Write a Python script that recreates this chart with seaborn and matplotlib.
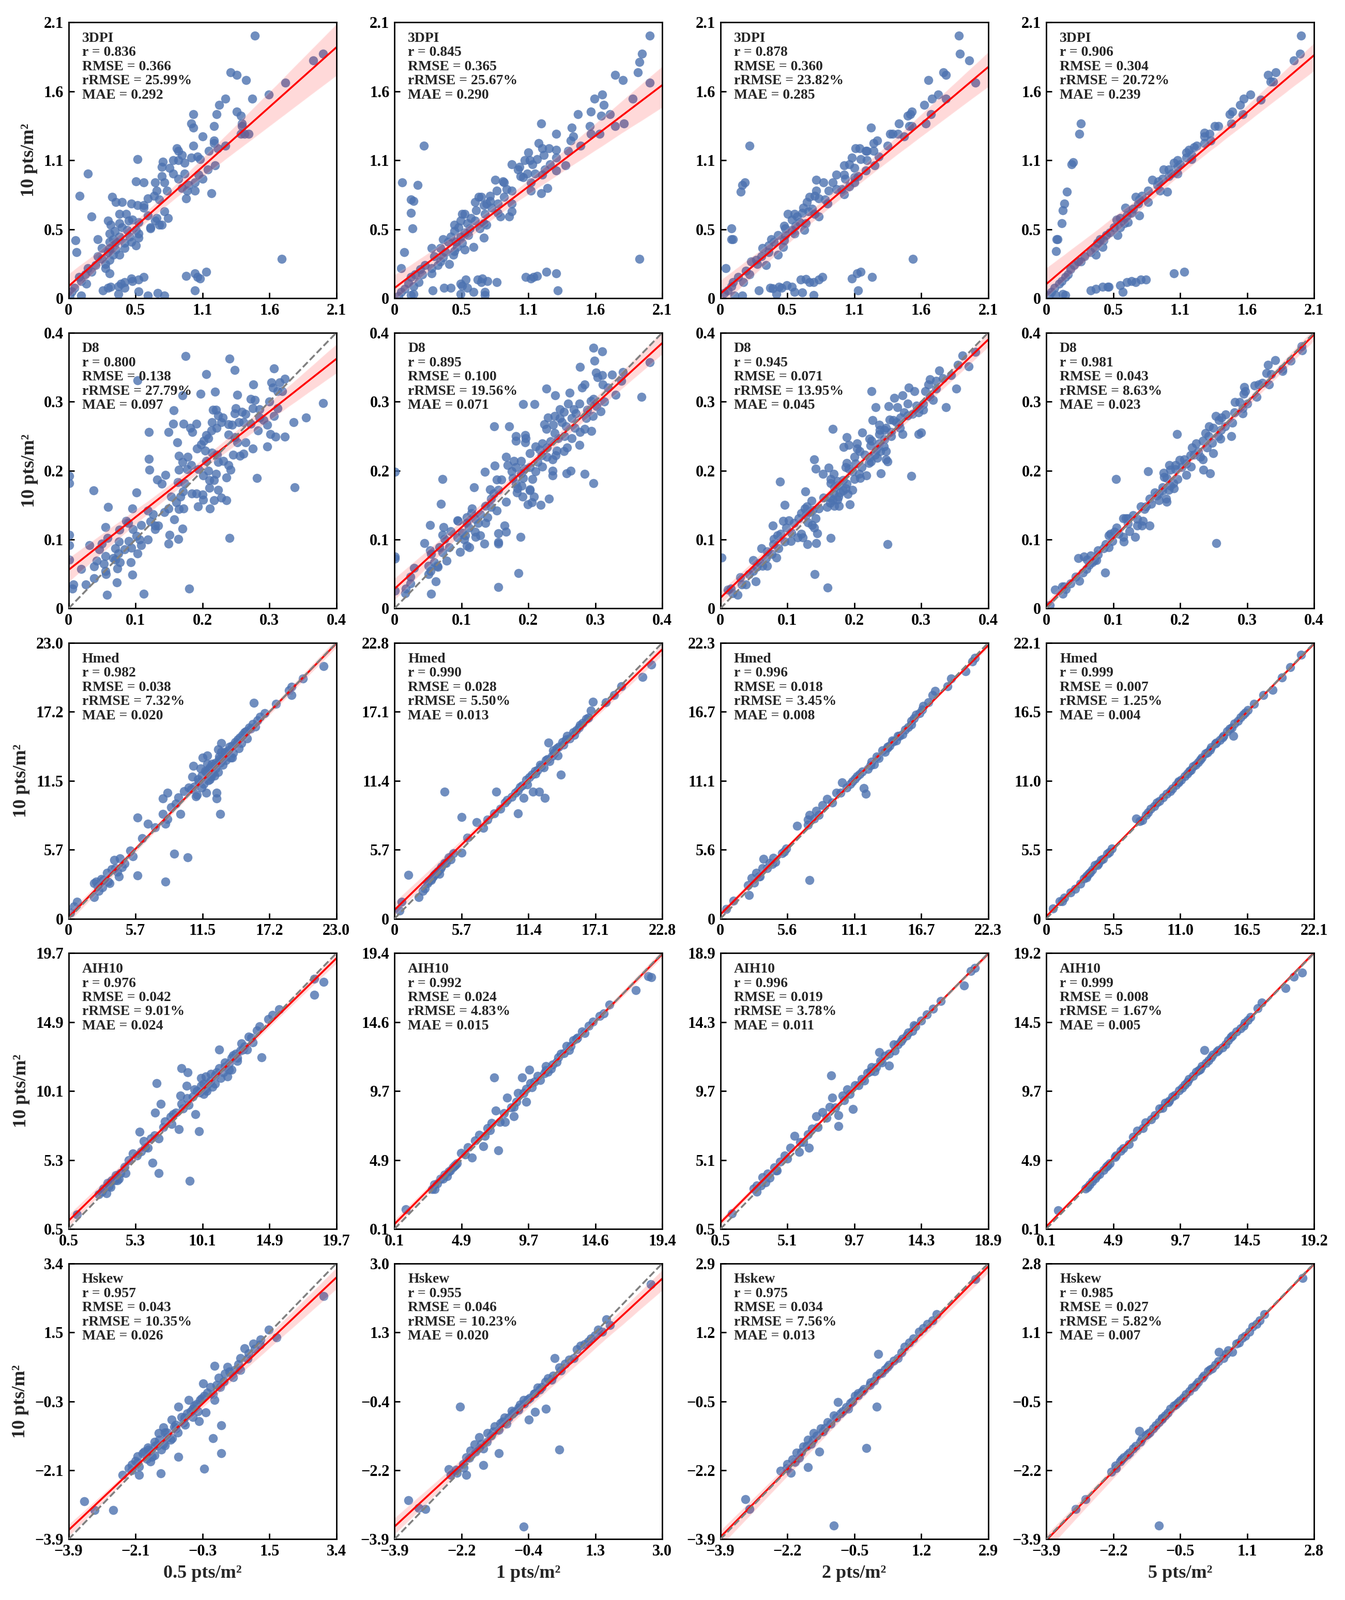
import numpy as np
import pandas as pd
import matplotlib
matplotlib.use("Agg")
import matplotlib.pyplot as plt
import seaborn as sns

# variables (rows) and point densities (columns)
variables = ["3DPI", "D8", "Hmed", "AIH10", "Hskew"]
x_labels = ["0.5 pts/m²", "1 pts/m²", "2 pts/m²", "5 pts/m²"]
y_label = "10 pts/m²"

# stats printed in each panel
r_vals = [[0.836, 0.845, 0.878, 0.906], [0.800, 0.895, 0.945, 0.981], [0.982, 0.990, 0.996, 0.999],
          [0.976, 0.992, 0.996, 0.999], [0.957, 0.955, 0.975, 0.985]]
rmse_vals = [[0.366, 0.365, 0.360, 0.304], [0.138, 0.100, 0.071, 0.043], [0.038, 0.028, 0.018, 0.007],
             [0.042, 0.024, 0.019, 0.008], [0.043, 0.046, 0.034, 0.027]]
rrmse_vals = [[25.99, 25.67, 23.82, 20.72], [27.79, 19.56, 13.95, 8.63], [7.32, 5.50, 3.45, 1.25],
              [9.01, 4.83, 3.78, 1.67], [10.35, 10.23, 7.56, 5.82]]
mae_vals = [[0.292, 0.290, 0.285, 0.239], [0.097, 0.071, 0.045, 0.023], [0.020, 0.013, 0.008, 0.004],
            [0.024, 0.015, 0.011, 0.005], [0.026, 0.020, 0.013, 0.007]]

# axis ranges and tick labels
limits = [[(0, 2.1)] * 4,
          [(0, 0.4)] * 4,
          [(0, 22.96), (0, 22.8), (0, 22.3), (0, 22.06)],
          [(0.5, 19.7), (0.1, 19.4), (0.5, 18.9), (0.1, 19.24)],
          [(-3.92, 3.36), (-3.88, 3.0), (-3.9, 2.9), (-3.87, 2.78)]]
tick_labels = [[["0", "0.5", "1.1", "1.6", "2.1"]] * 4,
               [["0", "0.1", "0.2", "0.3", "0.4"]] * 4,
               [["0", "5.7", "11.5", "17.2", "23.0"], ["0", "5.7", "11.4", "17.1", "22.8"],
                ["0", "5.6", "11.1", "16.7", "22.3"], ["0", "5.5", "11.0", "16.5", "22.1"]],
               [["0.5", "5.3", "10.1", "14.9", "19.7"], ["0.1", "4.9", "9.7", "14.6", "19.4"],
                ["0.5", "5.1", "9.7", "14.3", "18.9"], ["0.1", "4.9", "9.7", "14.5", "19.2"]],
               [["−3.9", "−2.1", "−0.3", "1.5", "3.4"], ["−3.9", "−2.2", "−0.4", "1.3", "3.0"],
                ["−3.9", "−2.2", "−0.5", "1.2", "2.9"], ["−3.9", "−2.2", "−0.5", "1.1", "2.8"]]]
show_diag = [False, True, True, True, True]

# ---- point data (x = lower density, y = 10 pts/m2) ----
pts_3dpi_05 = [(1.46, 2.00), (1.997, 1.86), (1.92, 1.81), (1.70, 1.64), (1.57, 1.55), (1.27, 1.72), (1.32, 1.70),
               (1.39, 1.66), (1.23, 1.52), (1.44, 1.52), (1.18, 1.47), (1.16, 1.40), (1.32, 1.42), (1.35, 1.39),
               (0.98, 1.40), (0.96, 1.33), (0.98, 1.30), (1.14, 1.31), (1.36, 1.33), (1.36, 1.31), (1.35, 1.25),
               (1.41, 1.25), (1.38, 1.25), (1.05, 1.23), (1.14, 1.20), (1.14, 1.18), (1.23, 1.16), (1.17, 1.14),
               (0.98, 1.16), (1.10, 1.12), (0.85, 1.14), (0.86, 1.12), (0.89, 1.09), (0.54, 1.06), (0.74, 1.04),
               (0.82, 1.05), (0.86, 1.05), (0.96, 1.07), (1.01, 1.08), (1.03, 1.06), (0.91, 1.03), (0.73, 1.00),
               (0.79, 0.99), (1.15, 1.01), (1.09, 0.98), (0.15, 0.95), (0.82, 0.95), (0.91, 0.95), (1.02, 0.94),
               (0.73, 0.93), (1.05, 0.91), (0.53, 0.89), (0.59, 0.88), (0.68, 0.88), (0.75, 0.88), (0.86, 0.91),
               (0.99, 0.88), (0.94, 0.86), (0.89, 0.84), (0.99, 0.82), (0.93, 0.82), (0.77, 0.82), (0.69, 0.82),
               (1.12, 0.80), (0.92, 0.76), (0.087, 0.78), (0.34, 0.77), (0.37, 0.73), (0.42, 0.73), (0.49, 0.72),
               (0.62, 0.76), (0.67, 0.78), (0.54, 0.71), (0.59, 0.71), (0.59, 0.69), (0.71, 0.75), (0.75, 0.66),
               (0.78, 0.61), (0.40, 0.64), (0.45, 0.64), (0.18, 0.62), (0.62, 0.63), (0.69, 0.61), (0.68, 0.59),
               (0.71, 0.56), (0.73, 0.56), (0.31, 0.59), (0.33, 0.56), (0.40, 0.57), (0.47, 0.59), (0.50, 0.60),
               (0.55, 0.58), (0.64, 0.53), (0.64, 0.54), (0.42, 0.54), (0.46, 0.52), (0.53, 0.52), (0.36, 0.51),
               (0.32, 0.49), (0.55, 0.49), (0.55, 0.46), (0.40, 0.47), (0.48, 0.47), (0.35, 0.45), (0.23, 0.45),
               (0.054, 0.44), (0.32, 0.43), (0.37, 0.43), (0.44, 0.42), (0.49, 0.43), (0.53, 0.40), (0.26, 0.38),
               (0.32, 0.38), (0.37, 0.37), (0.44, 0.38), (0.06, 0.35), (0.31, 0.35), (0.40, 0.33), (0.35, 0.33),
               (0.23, 0.32), (0.26, 0.30), (0.32, 0.29), (0.29, 0.26), (0.21, 0.25), (0.29, 0.23), (0.15, 0.23),
               (0.32, 0.19), (0.18, 0.20), (0.13, 0.18), (0.081, 0.16), (0.10, 0.13), (0.14, 0.11), (0.045, 0.08),
               (0.027, 0.05), (0.01, 0.02), (0.10, 0.02), (1.67, 0.30), (0.92, 0.17), (0.99, 0.19), (1.01, 0.16),
               (1.03, 0.15), (1.08, 0.20), (0.99, 0.06), (0.49, 0.15), (0.55, 0.14), (0.59, 0.16), (0.50, 0.13),
               (0.44, 0.12), (0.41, 0.11), (0.39, 0.09), (0.44, 0.08), (0.31, 0.08), (0.33, 0.085), (0.27, 0.06),
               (0.39, 0.03), (0.55, 0.05), (0.62, 0.02), (0.70, 0.04), (0.75, 0.02)]

pts_3dpi_1 = [(2.00, 2.00), (1.94, 1.86), (1.92, 1.80), (1.91, 1.72), (1.73, 1.70), (1.79, 1.66), (2.00, 1.64),
              (1.87, 1.52), (1.63, 1.55), (1.57, 1.52), (1.64, 1.47), (1.69, 1.40), (1.62, 1.39), (1.54, 1.42),
              (1.44, 1.40), (1.80, 1.33), (1.73, 1.31), (1.53, 1.31), (1.39, 1.30), (1.54, 1.25), (1.61, 1.25),
              (1.15, 1.33), (1.27, 1.25), (1.40, 1.23), (1.38, 1.20), (1.46, 1.16), (1.13, 1.18), (1.16, 1.14),
              (1.21, 1.14), (1.27, 1.13), (1.36, 1.12), (1.05, 1.11), (1.17, 1.09), (1.12, 1.06), (1.02, 1.05),
              (1.06, 1.05), (1.27, 1.07), (0.92, 1.02), (0.98, 1.00), (1.08, 1.02), (1.22, 1.02), (1.34, 1.01),
              (1.27, 0.97), (0.97, 0.98), (0.99, 0.93), (1.04, 0.95), (1.10, 0.95), (1.18, 0.98), (1.16, 0.94),
              (1.01, 0.92), (1.07, 0.88), (1.07, 0.82), (1.20, 0.84), (1.15, 0.80), (0.06, 0.88), (0.18, 0.86),
              (0.23, 1.16), (0.13, 0.75), (0.15, 0.74), (0.13, 0.65), (0.14, 0.53), (0.076, 0.35), (0.05, 0.23),
              (0.79, 0.90), (0.85, 0.89), (0.86, 0.88), (0.80, 0.82), (0.88, 0.83), (0.92, 0.82), (0.75, 0.78),
              (0.66, 0.77), (0.68, 0.77), (0.86, 0.77), (0.92, 0.72), (0.81, 0.72), (0.75, 0.74), (0.72, 0.72),
              (0.63, 0.73), (0.70, 0.71), (0.76, 0.69), (0.64, 0.67), (0.92, 0.66), (0.81, 0.65), (0.83, 0.62),
              (0.90, 0.62), (0.71, 0.64), (0.53, 0.64), (0.55, 0.64), (0.60, 0.61), (0.63, 0.59), (0.70, 0.57),
              (0.72, 0.56), (0.47, 0.56), (0.52, 0.59), (0.57, 0.57), (0.50, 0.54), (0.67, 0.53), (0.59, 0.53),
              (0.47, 0.51), (0.55, 0.50), (0.70, 0.46), (0.58, 0.48), (0.52, 0.47), (0.44, 0.47), (0.38, 0.45),
              (0.42, 0.43), (0.48, 0.43), (0.53, 0.42), (0.49, 0.39), (0.62, 0.39), (0.55, 0.37), (0.36, 0.38),
              (0.29, 0.38), (0.47, 0.36), (0.40, 0.35), (0.46, 0.33), (0.31, 0.32), (0.38, 0.31), (0.36, 0.28),
              (0.43, 0.26), (0.34, 0.25), (0.29, 0.23), (0.24, 0.25), (0.20, 0.22), (0.29, 0.19), (0.22, 0.18),
              (0.16, 0.18), (0.13, 0.16), (0.19, 0.12), (0.15, 0.09), (0.11, 0.115), (0.08, 0.07), (0.054, 0.046),
              (0.03, 0.015), (0.13, 0.023), (0.15, 0.03), (1.92, 0.30), (1.19, 0.20), (1.27, 0.19), (1.12, 0.17),
              (1.03, 0.16), (1.07, 0.15), (1.09, 0.16), (1.28, 0.06), (0.65, 0.14), (0.69, 0.15), (0.68, 0.12),
              (0.73, 0.13), (0.80, 0.12), (0.56, 0.14), (0.52, 0.11), (0.53, 0.095), (0.57, 0.08), (0.44, 0.08),
              (0.39, 0.077), (0.30, 0.06), (0.52, 0.03), (0.62, 0.046), (0.71, 0.046), (0.71, 0.023)]

pts_3dpi_2 = [(1.87, 2.00), (1.88, 1.86), (1.95, 1.81), (2.00, 1.64), (1.75, 1.72), (1.77, 1.70), (1.63, 1.66),
              (1.71, 1.55), (1.77, 1.52), (1.66, 1.52), (1.60, 1.47), (1.65, 1.40), (1.50, 1.42), (1.47, 1.39),
              (1.49, 1.40), (1.40, 1.33), (1.48, 1.31), (1.50, 1.31), (1.61, 1.33), (1.18, 1.30), (1.33, 1.25),
              (1.35, 1.25), (1.39, 1.25), (1.44, 1.23), (1.23, 1.20), (1.20, 1.18), (1.31, 1.16), (1.06, 1.14),
              (1.09, 1.14), (1.14, 1.12), (1.20, 1.12), (1.24, 1.08), (1.15, 1.12), (1.03, 1.07), (1.10, 1.06),
              (1.15, 1.05), (0.97, 1.01), (1.01, 1.02), (1.05, 0.99), (1.21, 1.01), (1.14, 0.97), (0.91, 0.94),
              (0.97, 0.94), (0.98, 0.91), (1.05, 0.92), (1.08, 0.93), (0.75, 0.90), (0.81, 0.88), (0.88, 0.88),
              (0.85, 0.82), (0.91, 0.83), (0.95, 0.83), (0.97, 0.79), (1.01, 0.85), (1.05, 0.88), (0.75, 0.82),
              (0.70, 0.77), (0.74, 0.78), (0.77, 0.76), (0.82, 0.75), (0.84, 0.72), (0.68, 0.73), (0.65, 0.69),
              (0.72, 0.68), (0.69, 0.66), (0.77, 0.62), (0.74, 0.64), (0.64, 0.65), (0.53, 0.64), (0.58, 0.64),
              (0.60, 0.62), (0.56, 0.60), (0.62, 0.58), (0.67, 0.57), (0.50, 0.55), (0.51, 0.53), (0.56, 0.52),
              (0.59, 0.55), (0.66, 0.52), (0.58, 0.49), (0.51, 0.48), (0.45, 0.48), (0.40, 0.45), (0.42, 0.43),
              (0.50, 0.44), (0.49, 0.39), (0.38, 0.40), (0.33, 0.38), (0.45, 0.33), (0.38, 0.35), (0.32, 0.32),
              (0.36, 0.25), (0.28, 0.29), (0.24, 0.28), (0.29, 0.26), (0.20, 0.21), (0.23, 0.18), (0.14, 0.16),
              (0.18, 0.12), (0.10, 0.12), (0.086, 0.09), (0.06, 0.06), (0.03, 0.04), (0.11, 0.02), (0.17, 0.02),
              (0.044, 0.23), (0.086, 0.53), (0.086, 0.45), (0.097, 0.45), (0.16, 0.81), (0.17, 0.86), (0.19, 0.88),
              (0.23, 1.16), (1.51, 0.30), (1.03, 0.15), (1.07, 0.19), (1.10, 0.20), (1.19, 0.16), (1.08, 0.06),
              (0.63, 0.14), (0.67, 0.145), (0.70, 0.12), (0.73, 0.12), (0.77, 0.14), (0.80, 0.16), (0.52, 0.10),
              (0.56, 0.085), (0.46, 0.085), (0.48, 0.08), (0.39, 0.077), (0.41, 0.074), (0.30, 0.06), (0.44, 0.03),
              (0.58, 0.046), (0.64, 0.043), (0.73, 0.023)]

pts_3dpi_5 = [(2.00, 2.00), (1.99, 1.86), (1.94, 1.81), (1.74, 1.70), (1.80, 1.72), (1.76, 1.65), (1.78, 1.65),
              (1.60, 1.55), (1.55, 1.52), (1.68, 1.51), (1.52, 1.47), (1.46, 1.42), (1.44, 1.40), (1.54, 1.40),
              (1.45, 1.33), (1.32, 1.31), (1.35, 1.31), (1.24, 1.26), (1.28, 1.25), (1.24, 1.23), (1.29, 1.20),
              (1.24, 1.18), (1.18, 1.16), (1.16, 1.15), (1.12, 1.13), (1.10, 1.11), (1.14, 1.09), (1.14, 1.06),
              (1.10, 1.07), (1.03, 1.05), (1.00, 1.03), (1.05, 1.02), (1.03, 1.00), (0.92, 0.98), (0.96, 0.98),
              (0.98, 0.95), (0.96, 0.93), (0.91, 0.91), (1.03, 0.95), (0.83, 0.90), (0.88, 0.89), (0.87, 0.86),
              (0.95, 0.81), (0.89, 0.82), (0.80, 0.82), (0.75, 0.78), (0.70, 0.77), (0.73, 0.75), (0.80, 0.73),
              (0.72, 0.72), (0.62, 0.69), (0.68, 0.68), (0.67, 0.65), (0.73, 0.63), (0.63, 0.63), (0.58, 0.61),
              (0.55, 0.60), (0.64, 0.58), (0.61, 0.57), (0.58, 0.54), (0.53, 0.54), (0.50, 0.50), (0.56, 0.48),
              (0.47, 0.48), (0.45, 0.44), (0.42, 0.45), (0.40, 0.42), (0.44, 0.39), (0.38, 0.38), (0.35, 0.35),
              (0.39, 0.33), (0.30, 0.32), (0.27, 0.28), (0.25, 0.28), (0.22, 0.25), (0.19, 0.22), (0.17, 0.18),
              (0.15, 0.16), (0.12, 0.13), (0.10, 0.11), (0.066, 0.077), (0.04, 0.046), (0.025, 0.023),
              (0.074, 0.023), (0.13, 0.03), (0.15, 0.023), (0.077, 0.36), (0.082, 0.45), (0.09, 0.45), (0.12, 0.57),
              (0.13, 0.67), (0.14, 0.72), (0.16, 0.81), (0.20, 1.02), (0.21, 1.035), (0.26, 1.25), (0.27, 1.33),
              (1.00, 0.19), (1.08, 0.20), (0.35, 0.06), (0.39, 0.07), (0.44, 0.085), (0.48, 0.085), (0.49, 0.085),
              (0.58, 0.10), (0.60, 0.046), (0.63, 0.12), (0.67, 0.13), (0.70, 0.12), (0.74, 0.14), (0.78, 0.14)]

pts_d8_05 = [(0.175, 0.366), (0.240, 0.362), (0.248, 0.346), (0.307, 0.348), (0.206, 0.340), (0.103, 0.331),
             (0.276, 0.325), (0.303, 0.328), (0.315, 0.328), (0.323, 0.333), (0.305, 0.320), (0.319, 0.315),
             (0.312, 0.315), (0.219, 0.314), (0.197, 0.311), (0.170, 0.309), (0.252, 0.310), (0.272, 0.304),
             (0.278, 0.302), (0.300, 0.300), (0.380, 0.298), (0.275, 0.290), (0.285, 0.289), (0.312, 0.290),
             (0.250, 0.290), (0.248, 0.283), (0.259, 0.285), (0.264, 0.282), (0.157, 0.287), (0.216, 0.288),
             (0.220, 0.288), (0.223, 0.280), (0.230, 0.277), (0.307, 0.279), (0.336, 0.270), (0.355, 0.277),
             (0.285, 0.277), (0.291, 0.273), (0.272, 0.268), (0.254, 0.270), (0.261, 0.270), (0.156, 0.268),
             (0.172, 0.268), (0.191, 0.268), (0.214, 0.270), (0.239, 0.267), (0.244, 0.266), (0.228, 0.270),
             (0.297, 0.266), (0.182, 0.262), (0.185, 0.256), (0.221, 0.262), (0.213, 0.258), (0.283, 0.258),
             (0.120, 0.256), (0.149, 0.256), (0.301, 0.253), (0.309, 0.249), (0.323, 0.249), (0.239, 0.252),
             (0.248, 0.248), (0.206, 0.251), (0.209, 0.247), (0.162, 0.241), (0.202, 0.243), (0.264, 0.241),
             (0.252, 0.241), (0.297, 0.235), (0.198, 0.238), (0.192, 0.232), (0.275, 0.232), (0.204, 0.229),
             (0.214, 0.226), (0.222, 0.223), (0.246, 0.223), (0.256, 0.221), (0.261, 0.224), (0.165, 0.221),
             (0.178, 0.220), (0.120, 0.217), (0.170, 0.212), (0.183, 0.208), (0.206, 0.214), (0.223, 0.212),
             (0.231, 0.214), (0.239, 0.208), (0.121, 0.201), (0.165, 0.201), (0.177, 0.202), (0.194, 0.202),
             (0.242, 0.201), (0.209, 0.200), (0.201, 0.193), (0.220, 0.195), (0.281, 0.189), (0.236, 0.190),
             (0.145, 0.194), (0.132, 0.187), (0.139, 0.181), (0.163, 0.183), (0.173, 0.182), (0.210, 0.186),
             (0.217, 0.186), (0.210, 0.175), (0.338, 0.176), (0.037, 0.171), (0.101, 0.168), (0.171, 0.170),
             (0.184, 0.167), (0.191, 0.167), (0.223, 0.172), (0.200, 0.165), (0.153, 0.162), (0.167, 0.162),
             (0.161, 0.154), (0.201, 0.158), (0.217, 0.157), (0.228, 0.161), (0.236, 0.157), (0.211, 0.145),
             (0.193, 0.148), (0.172, 0.145), (0.165, 0.144), (0.059, 0.147), (0.095, 0.145), (0.149, 0.145),
             (0.143, 0.140), (0.118, 0.142), (0.126, 0.137), (0.158, 0.129), (0.086, 0.127), (0.122, 0.126),
             (0.129, 0.120), (0.134, 0.120), (0.129, 0.115), (0.170, 0.116), (0.108, 0.121), (0.089, 0.124),
             (0.096, 0.115), (0.055, 0.118), (0.076, 0.114), (0.151, 0.107), (0.101, 0.105), (0.106, 0.100),
             (0.118, 0.100), (0.164, 0.101), (0.240, 0.102), (0.090, 0.098), (0.058, 0.102), (0.108, 0.092),
             (0.149, 0.094), (0.031, 0.092), (0.050, 0.094), (0.075, 0.097), (0.094, 0.088), (0.084, 0.086),
             (0.070, 0.087), (0.046, 0.086), (0.103, 0.080), (0.001, 0.107), (0.001, 0.092), (0.001, 0.071),
             (0.001, 0.192), (0.001, 0.182), (0.055, 0.076), (0.074, 0.080), (0.067, 0.073), (0.070, 0.071),
             (0.042, 0.069), (0.038, 0.061), (0.053, 0.065), (0.077, 0.067), (0.093, 0.067), (0.019, 0.057),
             (0.055, 0.054), (0.056, 0.050), (0.073, 0.058), (0.095, 0.049), (0.038, 0.044), (0.026, 0.035),
             (0.007, 0.035), (0.006, 0.029), (0.072, 0.038), (0.057, 0.020), (0.112, 0.021), (0.180, 0.029)]

pts_d8_1 = [(0.297, 0.378), (0.310, 0.373), (0.299, 0.359), (0.381, 0.357), (0.277, 0.350), (0.301, 0.342),
            (0.310, 0.338), (0.303, 0.335), (0.325, 0.339), (0.341, 0.343), (0.339, 0.330), (0.284, 0.325),
            (0.280, 0.320), (0.311, 0.325), (0.319, 0.320), (0.227, 0.319), (0.240, 0.309), (0.262, 0.313),
            (0.330, 0.310), (0.369, 0.307), (0.192, 0.296), (0.209, 0.296), (0.276, 0.297), (0.259, 0.297),
            (0.293, 0.301), (0.313, 0.300), (0.297, 0.304), (0.302, 0.293), (0.308, 0.286), (0.247, 0.289),
            (0.253, 0.285), (0.268, 0.289), (0.271, 0.283), (0.288, 0.288), (0.296, 0.279), (0.286, 0.276),
            (0.229, 0.277), (0.239, 0.279), (0.247, 0.276), (0.265, 0.276), (0.224, 0.267), (0.227, 0.260),
            (0.237, 0.266), (0.250, 0.270), (0.256, 0.264), (0.269, 0.262), (0.277, 0.256), (0.284, 0.260),
            (0.294, 0.257), (0.149, 0.264), (0.171, 0.264), (0.181, 0.250), (0.181, 0.243), (0.195, 0.251),
            (0.196, 0.247), (0.195, 0.241), (0.239, 0.254), (0.245, 0.247), (0.254, 0.250), (0.265, 0.247),
            (0.221, 0.239), (0.233, 0.242), (0.276, 0.237), (0.258, 0.233), (0.211, 0.235), (0.217, 0.230),
            (0.228, 0.233), (0.242, 0.229), (0.253, 0.228), (0.241, 0.222), (0.202, 0.225), (0.220, 0.222),
            (0.228, 0.220), (0.167, 0.220), (0.236, 0.216), (0.214, 0.212), (0.221, 0.206), (0.178, 0.214),
            (0.189, 0.214), (0.169, 0.208), (0.181, 0.205), (0.150, 0.207), (0.202, 0.205), (0.211, 0.199),
            (0.194, 0.203), (0.236, 0.200), (0.263, 0.200), (0.257, 0.196), (0.135, 0.198), (0.175, 0.199),
            (0.189, 0.196), (0.236, 0.193), (0.284, 0.195), (0.177, 0.189), (0.192, 0.189), (0.206, 0.188),
            (0.153, 0.187), (0.160, 0.187), (0.072, 0.188), (0.297, 0.182), (0.181, 0.181), (0.190, 0.178),
            (0.119, 0.176), (0.143, 0.173), (0.155, 0.172), (0.184, 0.174), (0.202, 0.173), (0.183, 0.168),
            (0.148, 0.167), (0.191, 0.162), (0.202, 0.171), (0.208, 0.162), (0.144, 0.159), (0.167, 0.155),
            (0.231, 0.159), (0.199, 0.151), (0.205, 0.154), (0.218, 0.150), (0.069, 0.152), (0.136, 0.149),
            (0.144, 0.147), (0.116, 0.145), (0.153, 0.142), (0.128, 0.137), (0.139, 0.132), (0.136, 0.124),
            (0.115, 0.138), (0.108, 0.132), (0.120, 0.130), (0.125, 0.124), (0.094, 0.128), (0.095, 0.127),
            (0.108, 0.124), (0.164, 0.120), (0.053, 0.121), (0.073, 0.118), (0.111, 0.117), (0.120, 0.111),
            (0.101, 0.110), (0.167, 0.111), (0.155, 0.109), (0.121, 0.104), (0.128, 0.106), (0.188, 0.104),
            (0.084, 0.112), (0.106, 0.106), (0.094, 0.103), (0.072, 0.107), (0.075, 0.101), (0.104, 0.100),
            (0.045, 0.095), (0.134, 0.094), (0.155, 0.096), (0.155, 0.094), (0.108, 0.091), (0.112, 0.089),
            (0.082, 0.089), (0.053, 0.084), (0.055, 0.079), (0.067, 0.089), (0.072, 0.081), (0.098, 0.082),
            (0.078, 0.069), (0.059, 0.067), (0.064, 0.062), (0.065, 0.060), (0.051, 0.062), (0.054, 0.054),
            (0.051, 0.050), (0.029, 0.059), (0.024, 0.046), (0.024, 0.036), (0.062, 0.039), (0.017, 0.029),
            (0.016, 0.022), (0.001, 0.026), (0.055, 0.021), (0.001, 0.075), (0.001, 0.072), (0.001, 0.198),
            (0.185, 0.051), (0.155, 0.031)]

pts_d8_2 = [(0.362, 0.367), (0.381, 0.372), (0.355, 0.353), (0.371, 0.351), (0.327, 0.345), (0.345, 0.338),
            (0.313, 0.332), (0.311, 0.325), (0.322, 0.330), (0.332, 0.334), (0.322, 0.319), (0.352, 0.319),
            (0.281, 0.320), (0.290, 0.315), (0.306, 0.315), (0.226, 0.315), (0.260, 0.305), (0.272, 0.309),
            (0.313, 0.307), (0.318, 0.302), (0.280, 0.297), (0.303, 0.296), (0.337, 0.292), (0.232, 0.292),
            (0.251, 0.293), (0.264, 0.292), (0.293, 0.294), (0.297, 0.290), (0.303, 0.288), (0.296, 0.284),
            (0.274, 0.284), (0.280, 0.280), (0.287, 0.282), (0.269, 0.277), (0.227, 0.273), (0.253, 0.274),
            (0.258, 0.273), (0.263, 0.270), (0.267, 0.267), (0.237, 0.266), (0.247, 0.262), (0.268, 0.262),
            (0.255, 0.256), (0.272, 0.253), (0.296, 0.253), (0.300, 0.255), (0.168, 0.260), (0.212, 0.255),
            (0.238, 0.259), (0.237, 0.253), (0.245, 0.259), (0.255, 0.250), (0.189, 0.248), (0.223, 0.246),
            (0.226, 0.243), (0.245, 0.245), (0.237, 0.239), (0.204, 0.239), (0.184, 0.234), (0.192, 0.237),
            (0.224, 0.236), (0.244, 0.235), (0.204, 0.232), (0.233, 0.230), (0.208, 0.228), (0.239, 0.228),
            (0.216, 0.223), (0.231, 0.223), (0.247, 0.228), (0.200, 0.220), (0.223, 0.219), (0.234, 0.218),
            (0.247, 0.216), (0.225, 0.213), (0.250, 0.213), (0.222, 0.211), (0.140, 0.216), (0.189, 0.211),
            (0.202, 0.210), (0.211, 0.205), (0.187, 0.205), (0.162, 0.204), (0.142, 0.203), (0.192, 0.203),
            (0.197, 0.199), (0.240, 0.196), (0.207, 0.195), (0.153, 0.195), (0.169, 0.195), (0.218, 0.193),
            (0.285, 0.192), (0.209, 0.189), (0.200, 0.188), (0.165, 0.188), (0.183, 0.186), (0.089, 0.184),
            (0.165, 0.182), (0.175, 0.185), (0.189, 0.181), (0.176, 0.179), (0.170, 0.176), (0.187, 0.174),
            (0.197, 0.172), (0.183, 0.171), (0.127, 0.170), (0.169, 0.167), (0.179, 0.168), (0.190, 0.166),
            (0.176, 0.162), (0.164, 0.161), (0.154, 0.161), (0.168, 0.157), (0.175, 0.158), (0.136, 0.156),
            (0.164, 0.153), (0.193, 0.151), (0.096, 0.150), (0.170, 0.149), (0.177, 0.149), (0.159, 0.147),
            (0.147, 0.145), (0.129, 0.148), (0.126, 0.145), (0.138, 0.143), (0.134, 0.140), (0.121, 0.138),
            (0.128, 0.135), (0.117, 0.131), (0.142, 0.131), (0.131, 0.125), (0.137, 0.121), (0.140, 0.117),
            (0.102, 0.128), (0.094, 0.127), (0.110, 0.124), (0.078, 0.120), (0.098, 0.117), (0.090, 0.108),
            (0.106, 0.110), (0.121, 0.108), (0.145, 0.109), (0.115, 0.103), (0.123, 0.103), (0.165, 0.102),
            (0.105, 0.098), (0.080, 0.101), (0.085, 0.106), (0.096, 0.097), (0.130, 0.093), (0.143, 0.095),
            (0.250, 0.093), (0.079, 0.093), (0.087, 0.087), (0.061, 0.087), (0.070, 0.083), (0.077, 0.079),
            (0.084, 0.074), (0.068, 0.073), (0.049, 0.070), (0.059, 0.066), (0.063, 0.062), (0.070, 0.062),
            (0.054, 0.060), (0.043, 0.050), (0.049, 0.054), (0.030, 0.045), (0.032, 0.035), (0.038, 0.035),
            (0.053, 0.039), (0.011, 0.027), (0.016, 0.029), (0.018, 0.022), (0.026, 0.020), (0.002, 0.074),
            (0.141, 0.050), (0.160, 0.030)]

pts_d8_5 = [(0.381, 0.380), (0.382, 0.374), (0.342, 0.360), (0.331, 0.353), (0.365, 0.359), (0.353, 0.344),
            (0.353, 0.347), (0.329, 0.341), (0.336, 0.340), (0.333, 0.325), (0.323, 0.327), (0.317, 0.325),
            (0.311, 0.323), (0.296, 0.321), (0.314, 0.307), (0.297, 0.315), (0.295, 0.311), (0.282, 0.299),
            (0.289, 0.299), (0.300, 0.297), (0.293, 0.290), (0.293, 0.283), (0.281, 0.284), (0.268, 0.281),
            (0.253, 0.279), (0.262, 0.277), (0.258, 0.273), (0.278, 0.269), (0.267, 0.264), (0.243, 0.264),
            (0.249, 0.262), (0.276, 0.250), (0.261, 0.259), (0.257, 0.250), (0.260, 0.246), (0.238, 0.254),
            (0.242, 0.250), (0.248, 0.240), (0.234, 0.243), (0.224, 0.239), (0.218, 0.233), (0.240, 0.233),
            (0.249, 0.225), (0.195, 0.253), (0.227, 0.227), (0.221, 0.223), (0.215, 0.222), (0.206, 0.216),
            (0.230, 0.220), (0.234, 0.216), (0.199, 0.215), (0.209, 0.210), (0.216, 0.206), (0.184, 0.208),
            (0.193, 0.208), (0.202, 0.205), (0.193, 0.202), (0.185, 0.201), (0.209, 0.194), (0.235, 0.201),
            (0.245, 0.196), (0.152, 0.199), (0.175, 0.197), (0.176, 0.191), (0.180, 0.189), (0.104, 0.188),
            (0.196, 0.188), (0.190, 0.182), (0.185, 0.178), (0.174, 0.176), (0.191, 0.174), (0.183, 0.172),
            (0.174, 0.171), (0.168, 0.167), (0.165, 0.164), (0.162, 0.168), (0.168, 0.157), (0.180, 0.155),
            (0.179, 0.159), (0.154, 0.159), (0.157, 0.152), (0.149, 0.148), (0.141, 0.148), (0.147, 0.144),
            (0.130, 0.135), (0.119, 0.131), (0.115, 0.131), (0.122, 0.131), (0.136, 0.130), (0.144, 0.127),
            (0.154, 0.120), (0.136, 0.120), (0.143, 0.120), (0.122, 0.123), (0.124, 0.112), (0.105, 0.117),
            (0.102, 0.111), (0.096, 0.108), (0.108, 0.108), (0.093, 0.106), (0.115, 0.104), (0.133, 0.104),
            (0.116, 0.097), (0.254, 0.095), (0.099, 0.098), (0.089, 0.093), (0.093, 0.089), (0.086, 0.087),
            (0.077, 0.084), (0.066, 0.077), (0.077, 0.078), (0.048, 0.073), (0.056, 0.075), (0.061, 0.071),
            (0.072, 0.070), (0.069, 0.067), (0.075, 0.070), (0.064, 0.063), (0.060, 0.057), (0.055, 0.052),
            (0.088, 0.052), (0.044, 0.046), (0.049, 0.040), (0.036, 0.036), (0.027, 0.032), (0.024, 0.032),
            (0.013, 0.027), (0.025, 0.021), (0.029, 0.028), (0.005, 0.005)]

pts_hmed_05 = [(21.85, 21.04), (20.1, 19.98), (19.1, 19.3), (18.9, 19.0), (19.1, 18.6), (15.9, 17.95), (17.8, 17.9),
               (16.8, 17.1), (16.2, 16.5), (15.8, 16.2), (15.6, 15.8), (15.1, 15.5), (14.7, 15.1), (14.3, 14.7),
               (13.1, 14.6), (13.8, 14.3), (13.4, 13.9), (12.9, 13.5), (13.1, 13.2), (11.5, 13.4), (14.0, 13.4),
               (12.5, 12.8), (12.1, 12.6), (10.7, 12.7), (11.8, 12.2), (11.4, 11.9), (12.1, 11.6), (11.2, 11.4),
               (10.3, 10.9), (11.8, 10.5), (11.0, 10.3), (12.7, 10.5), (8.5, 10.5), (9.4, 10.1), (8.1, 10.0),
               (12.7, 10.0), (9.2, 9.6), (8.8, 9.3), (9.6, 8.7), (8.1, 8.7), (13.0, 8.7), (8.5, 8.3), (5.9, 8.4),
               (6.8, 7.9), (8.3, 7.9), (7.4, 7.6), (6.3, 6.7), (5.3, 5.65), (5.5, 5.2), (4.4, 5.0), (3.9, 4.9),
               (4.8, 4.6), (4.0, 4.2), (9.05, 5.4), (10.2, 5.1), (5.9, 3.6), (8.3, 3.1), (3.3, 3.8), (3.5, 2.96),
               (2.8, 3.3), (2.35, 3.1), (4.3, 3.5), (2.2, 2.96), (2.9, 2.6), (2.6, 2.3), (2.2, 1.8), (0.74, 1.4),
               (0.44, 1.0), (0.15, 0.5), (12.0, 12.4), (12.6, 13.0), (13.5, 13.8), (14.0, 14.4), (14.5, 14.9),
               (15.2, 15.6), (13.0, 13.0), (12.2, 11.8), (11.6, 11.2), (10.8, 11.0), (12.4, 12.1), (13.3, 13.4),
               (14.8, 14.6), (11.9, 12.9), (12.8, 12.2), (10.5, 10.8), (11.1, 11.6), (11.4, 10.9), (11.7, 12.3),
               (12.0, 11.5), (12.3, 12.9), (12.6, 12.5), (12.9, 13.3), (13.2, 12.8), (13.5, 13.2), (13.7, 14.0),
               (14.1, 13.8), (14.4, 14.6), (14.6, 14.2), (14.9, 15.3), (15.3, 15.0), (15.5, 15.9), (16.0, 16.0),
               (16.4, 16.8), (10.9, 10.2), (11.3, 12.5), (12.5, 11.9), (13.1, 13.9), (13.9, 13.4), (3.0, 3.2),
               (3.4, 3.1), (3.7, 4.1), (4.2, 3.9), (2.5, 2.7), (4.6, 4.3), (9.9, 10.6), (10.6, 11.8), (11.9, 13.6),
               (12.8, 14.1)]

pts_hmed_1 = [(21.85, 21.0), (21.1, 20.0), (19.3, 19.2), (18.7, 18.5), (18.0, 17.9), (16.9, 17.95), (16.7, 17.2),
              (16.3, 16.5), (15.8, 16.0), (15.2, 15.4), (14.7, 15.1), (14.3, 14.6), (13.1, 14.55), (13.8, 14.1),
              (13.4, 13.45), (12.9, 13.1), (12.5, 12.6), (11.95, 12.2), (14.15, 11.9), (11.2, 11.5), (10.85, 11.0),
              (10.5, 10.6), (11.8, 10.5), (12.3, 10.5), (8.65, 10.5), (4.25, 10.5), (9.97, 10.05), (11.0, 9.98),
              (12.8, 9.98), (9.4, 9.6), (9.0, 9.1), (10.5, 8.7), (8.5, 8.7), (7.9, 8.2), (5.7, 8.4), (7.0, 7.96),
              (7.55, 7.5), (6.2, 6.7), (5.7, 5.45), (5.0, 5.4), (4.6, 5.05), (4.25, 4.6), (3.9, 4.15), (3.5, 3.75),
              (3.15, 3.3), (1.17, 3.6), (2.8, 2.95), (2.4, 2.3), (2.05, 1.8), (0.6, 1.4), (0.44, 0.68),
              (14.0, 14.2), (13.6, 13.7), (12.2, 12.3), (11.5, 11.7), (15.5, 15.6), (16.0, 16.2), (3.7, 3.9),
              (4.0, 4.3), (3.3, 3.5), (13.0, 13.2), (14.6, 14.8), (12.0, 12.0), (12.4, 12.7), (12.7, 12.5),
              (13.2, 13.0), (13.5, 13.9), (13.9, 13.5), (14.4, 14.4), (14.9, 14.9), (15.3, 15.2), (15.7, 15.8),
              (16.5, 16.6), (10.3, 10.4), (10.7, 10.9), (11.3, 11.1), (11.7, 11.9), (9.6, 9.8), (3.1, 3.2),
              (3.4, 3.6), (3.8, 3.7), (4.4, 4.6), (4.8, 4.9), (2.9, 3.1), (2.6, 2.5)]

pts_hmed_2 = [(21.2, 21.1), (21.0, 20.8), (20.4, 20.0), (19.2, 19.4), (18.9, 18.8), (17.65, 18.1), (17.9, 18.4),
              (16.9, 17.2), (16.6, 16.6), (16.1, 16.2), (15.65, 15.5), (15.15, 14.9), (14.65, 14.4), (14.1, 14.0),
              (13.7, 13.5), (13.2, 13.0), (12.8, 12.5), (12.3, 12.1), (11.6, 11.7), (11.2, 11.3), (10.15, 11.0),
              (10.5, 10.6), (11.95, 10.55), (12.1, 10.1), (9.65, 10.2), (8.9, 9.7), (8.5, 9.2), (8.0, 8.7),
              (7.4, 8.4), (7.3, 8.0), (7.3, 7.6), (6.4, 7.5), (5.5, 5.65), (5.15, 5.3), (4.4, 4.9), (3.6, 4.85),
              (4.1, 4.5), (3.5, 4.1), (3.0, 3.7), (2.6, 3.3), (2.3, 2.7), (7.4, 3.1), (2.4, 1.9), (1.1, 1.45),
              (0.5, 0.8), (15.9, 16.0), (14.9, 14.8), (13.9, 13.9), (12.5, 12.4), (11.0, 11.1), (16.3, 16.5),
              (14.4, 14.3), (3.3, 3.4), (4.6, 4.6), (11.4, 11.5), (11.8, 11.9), (12.6, 12.7), (13.0, 13.1),
              (13.5, 13.6), (13.9, 13.8), (14.3, 14.4), (14.8, 14.8), (15.4, 15.3), (15.9, 15.7), (16.8, 16.9),
              (17.3, 17.5), (9.3, 9.4), (10.0, 10.2), (10.8, 10.9), (3.9, 4.1), (4.3, 4.4), (2.8, 2.9), (3.2, 3.4),
              (5.3, 5.4), (8.2, 8.4), (7.8, 8.1)]

pts_hmed_5 = [(21.0, 21.1), (20.1, 20.1), (19.4, 19.3), (18.65, 18.3), (17.9, 17.9), (17.1, 17.2), (16.4, 16.5),
              (15.8, 15.8), (15.4, 14.6), (15.1, 15.2), (14.6, 14.6), (13.9, 14.0), (13.3, 13.3), (12.8, 12.9),
              (12.1, 12.2), (11.6, 11.6), (11.1, 11.1), (10.7, 10.7), (10.2, 10.2), (9.6, 9.7), (9.1, 9.3),
              (8.6, 8.8), (8.2, 8.3), (7.9, 7.9), (7.4, 8.0), (5.4, 5.6), (5.0, 5.2), (4.5, 4.7), (4.0, 4.3),
              (3.5, 3.6), (3.1, 3.2), (2.4, 2.4), (1.5, 1.7), (1.1, 1.4), (0.57, 0.8), (14.3, 14.3), (13.6, 13.7),
              (12.5, 12.5), (11.9, 11.9), (10.9, 10.9), (9.9, 10.0), (15.5, 15.6), (16.0, 16.1), (3.8, 3.9),
              (4.2, 4.3), (3.3, 3.3), (10.4, 10.4), (10.9, 11.0), (11.4, 11.4), (11.8, 11.8), (12.3, 12.3),
              (12.7, 12.7), (13.1, 13.2), (13.5, 13.5), (14.0, 14.1), (14.5, 14.5), (14.9, 15.0), (15.3, 15.3),
              (16.2, 16.3), (16.6, 16.7), (9.3, 9.4), (8.9, 9.0), (8.4, 8.5), (7.7, 7.8), (2.8, 2.8), (3.3, 3.4),
              (3.6, 3.7), (4.3, 4.4), (4.7, 4.8), (5.2, 5.3), (2.0, 2.1), (1.3, 1.4)]

pts_aih_05 = [(18.8, 17.7), (18.1, 17.9), (18.1, 16.8), (15.6, 15.8), (15.1, 15.4), (14.8, 15.1), (14.0, 14.3),
              (13.4, 13.9), (14.35, 12.45), (13.7, 13.5), (13.1, 13.2), (12.8, 12.9), (11.3, 13.0), (12.2, 12.4),
              (11.7, 12.1), (12.2, 11.6), (11.3, 11.7), (11.0, 11.2), (10.65, 10.8), (10.35, 11.1), (8.6, 11.7),
              (9.05, 11.4), (10.0, 10.45), (9.7, 10.1), (8.95, 10.45), (10.35, 10.25), (9.4, 9.7), (8.5, 9.8),
              (7.1, 9.2), (9.1, 9.15), (8.7, 8.9), (8.2, 8.6), (6.8, 10.65), (6.7, 8.6), (9.6, 8.5), (7.8, 8.3),
              (7.9, 7.8), (8.4, 7.45), (7.3, 7.6), (9.85, 7.3), (5.6, 7.25), (6.65, 7.0), (6.95, 6.8), (5.9, 6.6),
              (6.2, 6.15), (5.7, 5.9), (5.1, 5.75), (6.5, 5.1), (6.95, 4.4), (9.2, 3.85), (4.8, 5.3), (4.5, 4.8),
              (4.2, 4.4), (3.9, 4.25), (3.6, 3.9), (3.3, 3.7), (3.0, 3.3), (2.65, 2.9), (1.1, 1.5), (11.6, 11.4),
              (12.0, 12.0), (12.5, 12.7), (11.0, 10.6), (10.7, 11.3), (13.0, 13.0), (12.6, 12.2), (10.2, 10.6),
              (11.9, 11.1), (4.0, 3.9), (3.5, 3.4), (9.9, 10.0), (10.2, 9.9), (10.5, 10.6), (10.8, 10.4),
              (11.1, 11.4), (11.4, 11.0), (11.7, 11.8), (12.0, 11.6), (12.3, 12.6), (12.6, 12.4), (12.9, 13.4),
              (13.3, 13.0), (13.6, 13.8), (14.2, 14.6), (10.0, 11.0), (10.4, 10.1), (9.5, 10.2), (9.0, 9.6),
              (8.6, 9.2), (8.0, 8.5), (7.4, 8.0), (6.4, 6.8), (6.0, 6.2), (5.4, 5.6), (4.1, 4.0), (3.8, 3.9),
              (3.4, 3.5), (3.2, 3.0), (2.9, 3.1), (4.6, 4.4)]

pts_aih_1 = [(18.4, 17.8), (18.6, 17.7), (17.5, 16.8), (15.6, 15.8), (15.2, 15.2), (14.9, 15.0), (14.1, 14.3),
             (13.6, 13.9), (13.0, 13.3), (12.5, 12.9), (12.1, 12.35), (11.8, 11.8), (11.0, 11.5), (11.15, 11.1),
             (10.4, 10.8), (9.8, 11.25), (9.3, 10.7), (7.3, 10.7), (9.9, 10.3), (9.6, 9.9), (9.0, 9.6), (8.2, 9.3),
             (9.6, 9.0), (8.7, 8.65), (7.4, 8.4), (8.7, 7.97), (8.05, 7.6), (7.1, 7.5), (6.8, 7.15), (6.2, 6.7),
             (5.9, 6.3), (6.5, 5.9), (7.6, 5.6), (5.4, 5.8), (4.9, 5.4), (5.7, 5.1), (4.6, 4.7), (4.3, 4.4),
             (4.0, 4.1), (3.7, 3.9), (3.4, 3.6), (2.95, 3.2), (2.8, 2.9), (0.9, 1.47), (12.8, 12.9), (11.5, 11.6),
             (10.0, 10.0), (8.9, 9.0), (13.3, 13.5), (10.9, 11.0), (3.9, 3.8), (4.4, 4.5), (10.2, 10.4),
             (10.6, 10.5), (11.0, 11.2), (11.4, 11.3), (11.9, 12.1), (12.3, 12.4), (12.7, 12.6), (13.2, 13.4),
             (13.8, 13.8), (14.4, 14.6), (9.4, 9.6), (8.5, 8.6), (8.0, 8.2), (7.7, 7.6), (7.0, 7.0), (6.6, 6.6),
             (5.2, 5.3), (4.5, 4.6), (4.1, 4.2), (3.6, 3.6), (3.2, 3.3), (3.0, 2.9)]

pts_aih_2 = [(18.0, 17.9), (17.7, 17.7), (17.25, 16.75), (15.65, 15.7), (15.1, 15.2), (14.3, 14.4), (13.8, 14.1),
             (13.4, 13.6), (13.0, 13.2), (12.4, 12.8), (11.4, 12.3), (11.8, 12.05), (11.5, 11.7), (12.1, 11.4),
             (10.9, 11.3), (10.6, 10.9), (8.1, 10.75), (10.2, 10.5), (9.75, 10.1), (9.2, 9.8), (8.9, 9.4),
             (8.2, 9.25), (9.6, 8.5), (8.0, 8.65), (7.5, 8.3), (8.6, 8.1), (7.1, 8.0), (8.6, 7.35), (6.8, 7.2),
             (6.5, 6.8), (5.6, 6.7), (6.0, 6.3), (5.3, 5.9), (6.6, 5.9), (5.9, 5.65), (4.9, 5.4), (4.6, 5.0),
             (4.2, 4.6), (3.75, 4.2), (3.4, 3.96), (3.0, 3.4), (2.8, 3.2), (1.3, 1.55), (12.7, 12.8), (11.2, 11.3),
             (10.0, 10.1), (9.4, 9.5), (13.7, 13.7), (3.6, 3.6), (4.3, 4.4), (10.4, 10.4), (10.8, 11.0),
             (11.1, 11.0), (11.6, 11.6), (12.1, 12.2), (12.5, 12.4), (12.9, 13.0), (13.3, 13.4), (13.9, 14.0),
             (14.7, 14.8), (9.0, 9.1), (8.4, 8.6), (7.8, 7.9), (7.2, 7.3), (6.2, 6.3), (5.1, 5.2), (4.4, 4.4),
             (3.9, 3.9), (3.3, 3.4), (3.0, 3.0)]

pts_aih_5 = [(18.4, 17.9), (17.8, 17.6), (17.2, 16.8), (15.5, 15.8), (15.2, 15.4), (14.3, 14.4), (14.0, 14.0),
             (13.4, 13.5), (12.9, 12.9), (11.4, 12.5), (12.0, 12.2), (11.7, 11.8), (11.2, 11.4), (10.8, 11.0),
             (10.3, 10.5), (10.0, 10.1), (9.6, 9.7), (9.1, 9.3), (8.6, 8.85), (8.2, 8.45), (7.85, 8.0), (7.2, 7.5),
             (6.6, 6.9), (6.3, 6.5), (6.0, 6.0), (5.4, 5.5), (5.1, 5.2), (4.65, 4.65), (4.2, 4.2), (3.7, 3.8),
             (3.4, 3.4), (3.05, 3.0), (0.96, 1.4), (13.1, 13.2), (12.4, 12.5), (11.0, 11.1), (9.8, 9.9),
             (8.9, 9.0), (14.7, 14.8), (3.9, 3.9), (4.4, 4.4), (10.2, 10.3), (10.6, 10.7), (11.1, 11.2),
             (11.5, 11.6), (11.9, 12.0), (12.3, 12.4), (12.7, 12.7), (13.3, 13.4), (13.7, 13.8), (14.2, 14.2),
             (14.5, 14.6), (9.3, 9.4), (8.8, 8.9), (8.4, 8.5), (7.6, 7.7), (7.0, 7.1), (5.6, 5.7), (5.0, 5.1),
             (4.5, 4.5), (3.6, 3.6), (3.2, 3.2), (2.9, 2.9)]

pts_hskew_05 = [(3.01, 2.49), (1.73, 1.41), (1.52, 1.61), (1.28, 1.21), (1.10, 1.24), (0.86, 1.12), (0.75, 0.86),
                (0.98, 0.98), (0.75, 0.54), (0.05, 0.66), (0.40, 0.63), (0.33, 0.45), (0.16, 0.34), (-0.26, 0.19),
                (-0.07, 0.10), (-0.23, -0.13), (0.05, -0.25), (-0.65, -0.25), (-0.93, -0.42), (-0.54, -0.48),
                (-0.19, -0.57), (-0.77, -0.71), (-1.12, -0.77), (-0.37, -0.80), (0.23, -0.91), (-1.35, -0.97),
                (-1.00, -1.00), (-1.47, -1.12), (-1.24, -1.23), (-1.59, -1.35), (0.00, -1.26), (-1.35, -1.41),
                (-1.77, -1.50), (-1.87, -1.61), (-1.59, -1.70), (-2.05, -1.73), (-0.93, -1.75), (0.23, -1.65),
                (-1.70, -1.87), (-2.29, -2.05), (-2.05, -1.90), (-0.23, -2.06), (-2.45, -2.22), (-2.01, -2.22),
                (-1.42, -2.18), (-3.50, -2.92), (-3.22, -3.15), (-2.71, -3.15), (-1.0, -0.9), (-0.6, -0.55),
                (-1.3, -1.1), (-0.3, -0.2), (0.2, 0.1), (-1.7, -1.6), (-0.8, -0.85), (0.6, 0.55), (-1.1, -1.25),
                (-0.45, -0.35), (-2.2, -1.95), (-1.5, -1.45), (-2.2, -2.1), (-2.0, -2.0), (-1.8, -1.8),
                (-1.75, -1.55), (-1.65, -1.75), (-1.55, -1.45), (-1.45, -1.3), (-1.4, -1.55), (-1.25, -1.1),
                (-1.15, -1.3), (-1.05, -0.95), (-0.95, -1.1), (-0.85, -0.7), (-0.75, -0.9), (-0.7, -0.6),
                (-0.55, -0.7), (-0.5, -0.4), (-0.4, -0.55), (-0.35, -0.25), (-0.15, -0.05), (0.0, -0.1),
                (0.1, 0.15), (0.3, 0.25), (0.45, 0.5), (0.55, 0.35), (0.7, 0.7), (0.95, 0.85), (1.15, 1.1),
                (1.3, 1.35), (-1.9, -1.65), (-2.1, -1.85), (-1.3, -1.45)]

pts_hskew_1 = [(2.71, 2.48), (1.56, 1.60), (1.65, 1.46), (1.27, 1.21), (1.16, 1.13), (1.01, 0.99), (0.72, 0.64),
               (0.23, 0.64), (0.50, 0.50), (0.39, 0.33), (0.06, 0.14), (-0.10, -0.08), (-0.27, -0.24),
               (-0.56, -0.41), (-0.65, -0.52), (0.01, -0.63), (-0.27, -0.71), (-0.87, -0.68), (-1.05, -0.85),
               (-0.43, -0.90), (-1.16, -0.99), (-1.31, -1.07), (-1.49, -1.23), (-1.71, -1.34), (-1.82, -1.51),
               (-1.60, -1.62), (-1.93, -1.67), (-2.20, -0.57), (-1.20, -1.73), (-2.04, -1.84), (-2.11, -2.00),
               (-1.60, -2.03), (-2.49, -2.14), (-2.44, -2.28), (-2.27, -2.22), (-2.04, -2.28), (0.35, -1.64),
               (-3.53, -2.91), (-3.26, -3.10), (-3.08, -3.13), (-0.56, -3.57), (-0.8, -0.7), (-1.0, -1.0),
               (-0.4, -0.35), (0.2, 0.2), (-1.4, -1.3), (-0.7, -0.6), (0.8, 0.85), (-1.7, -1.6), (-0.2, -0.1),
               (-2.3, -2.15), (-2.1, -2.1), (-1.95, -1.85), (-1.8, -1.7), (-1.65, -1.5), (-1.5, -1.45),
               (-1.35, -1.2), (-1.2, -1.15), (-1.1, -0.95), (-0.95, -0.85), (-0.85, -0.75), (-0.7, -0.65),
               (-0.55, -0.5), (-0.45, -0.4), (-0.3, -0.25), (-0.15, -0.15), (0.0, 0.05), (0.15, 0.1),
               (0.35, 0.4), (0.6, 0.6), (0.9, 0.95), (1.1, 1.05), (1.35, 1.35), (1.45, 1.3)]

pts_hskew_2 = [(2.57, 2.52), (1.59, 1.65), (1.48, 1.49), (1.15, 1.22), (1.00, 1.05), (0.78, 0.84), (0.11, 0.67),
               (0.61, 0.56), (0.39, 0.40), (0.28, 0.29), (0.07, 0.13), (-0.09, -0.03), (-0.26, -0.20),
               (-0.48, -0.36), (0.07, -0.63), (-0.92, -0.52), (-0.65, -0.68), (-1.02, -0.85), (-1.18, -1.01),
               (-1.35, -1.17), (-1.53, -1.28), (-1.68, -1.45), (-1.79, -1.61), (-0.20, -1.65), (-1.96, -1.77),
               (-1.39, -1.74), (-2.07, -1.93), (-1.68, -2.12), (-2.22, -2.15), (-2.37, -2.21), (-2.11, -2.26),
               (-3.27, -2.91), (-3.16, -3.16), (-1.02, -3.56), (-0.8, -0.75), (-0.4, -0.3), (0.2, 0.2),
               (-1.3, -1.25), (-1.6, -1.55), (-0.6, -0.55), (0.5, 0.5), (-1.9, -1.9), (-2.2, -2.05),
               (-2.0, -2.0), (-1.85, -1.75), (-1.7, -1.6), (-1.55, -1.45), (-1.45, -1.35), (-1.25, -1.15),
               (-1.1, -1.05), (-0.95, -0.9), (-0.85, -0.8), (-0.7, -0.65), (-0.55, -0.5), (-0.4, -0.35),
               (-0.3, -0.25), (-0.1, -0.1), (0.0, 0.0), (0.15, 0.2), (0.35, 0.35), (0.7, 0.7), (0.9, 0.95),
               (1.25, 1.3), (1.35, 1.4)]

pts_hskew_5 = [(2.50, 2.43), (1.54, 1.56), (1.43, 1.40), (1.17, 1.13), (1.07, 1.03), (0.92, 0.87), (0.42, 0.65),
               (0.75, 0.65), (0.53, 0.50), (0.32, 0.34), (0.15, 0.18), (0.00, 0.02), (-0.15, -0.14), (-0.32, -0.30),
               (-0.47, -0.46), (-0.60, -0.57), (-0.79, -0.73), (-0.92, -0.89), (-1.07, -1.05), (-1.22, -1.20),
               (-1.56, -1.26), (-1.39, -1.36), (-1.54, -1.52), (-1.71, -1.68), (-1.86, -1.84), (-2.03, -2.00),
               (-2.14, -2.16), (-2.25, -2.24), (-2.89, -2.90), (-3.14, -3.14), (-1.07, -3.54), (-0.7, -0.65),
               (-0.2, -0.2), (0.25, 0.25), (-1.3, -1.3), (-1.0, -0.95), (0.6, 0.6), (-1.95, -1.9),
               (-2.15, -2.1), (-2.0, -1.95), (-1.8, -1.78), (-1.65, -1.62), (-1.5, -1.45), (-1.35, -1.33),
               (-1.15, -1.12), (-1.0, -0.98), (-0.85, -0.82), (-0.65, -0.62), (-0.55, -0.52), (-0.4, -0.38),
               (-0.25, -0.22), (-0.1, -0.08), (0.05, 0.07), (0.2, 0.22), (0.4, 0.42), (0.65, 0.68), (0.85, 0.85),
               (1.0, 0.98), (1.25, 1.25), (1.35, 1.32)]

panel_points = [[pts_3dpi_05, pts_3dpi_1, pts_3dpi_2, pts_3dpi_5],
                [pts_d8_05, pts_d8_1, pts_d8_2, pts_d8_5],
                [pts_hmed_05, pts_hmed_1, pts_hmed_2, pts_hmed_5],
                [pts_aih_05, pts_aih_1, pts_aih_2, pts_aih_5],
                [pts_hskew_05, pts_hskew_1, pts_hskew_2, pts_hskew_5]]

# -------------------------
# style
# -------------------------
sns.set_theme(style="ticks")
plt.rcParams["font.family"] = ["Liberation Serif", "DejaVu Serif"]
plt.rcParams["font.weight"] = "bold"
plt.rcParams["axes.labelweight"] = "bold"
plt.rcParams["axes.edgecolor"] = "black"
plt.rcParams["axes.linewidth"] = 1.0

fig, axes = plt.subplots(5, 4, figsize=(13.01, 15.48), dpi=200)
fig.subplots_adjust(left=0.051, right=0.977, top=0.986, bottom=0.038, wspace=0.217, hspace=0.125)

for i, var in enumerate(variables):
    for j in range(4):
        ax = axes[i, j]
        pts = np.array(panel_points[i][j])
        df = pd.DataFrame({"x": pts[:, 0], "y": pts[:, 1]})
        lo, hi = limits[i][j]
        ax.set_xlim(lo, hi)
        ax.set_ylim(lo, hi)

        sns.regplot(data=df, x="x", y="y", ax=ax, truncate=False, seed=0,
                    scatter_kws=dict(s=40, color="#4C72B0", alpha=0.8, linewidths=0),
                    line_kws=dict(color="red", lw=1.3))
        if show_diag[i]:
            ax.plot([lo, hi], [lo, hi], ls="--", color="gray", lw=1.3, zorder=3)

        ticks = np.linspace(lo, hi, 5)
        ax.set_xticks(ticks)
        ax.set_yticks(ticks)
        ax.set_xticklabels(tick_labels[i][j])
        ax.set_yticklabels(tick_labels[i][j])
        ax.tick_params(direction="in", length=4, width=1, labelsize=11,
                       top=False, right=False, colors="black")
        for sp in ax.spines.values():
            sp.set_linewidth(1.0)
            sp.set_color("black")

        ax.set_xlabel(x_labels[j] if i == 4 else "", fontsize=13, fontweight="bold")
        ax.set_ylabel(y_label if j == 0 else "", fontsize=13, fontweight="bold")

        txt = (f"{var}\nr = {r_vals[i][j]:.3f}\nRMSE = {rmse_vals[i][j]:.3f}\n"
               f"rRMSE = {rrmse_vals[i][j]:.2f}%\nMAE = {mae_vals[i][j]:.3f}")
        ax.text(0.05, 0.965, txt, transform=ax.transAxes, ha="left", va="top",
                fontsize=10, fontweight="bold", linespacing=1.13, zorder=5)

fig.savefig("out.png", dpi=200)
